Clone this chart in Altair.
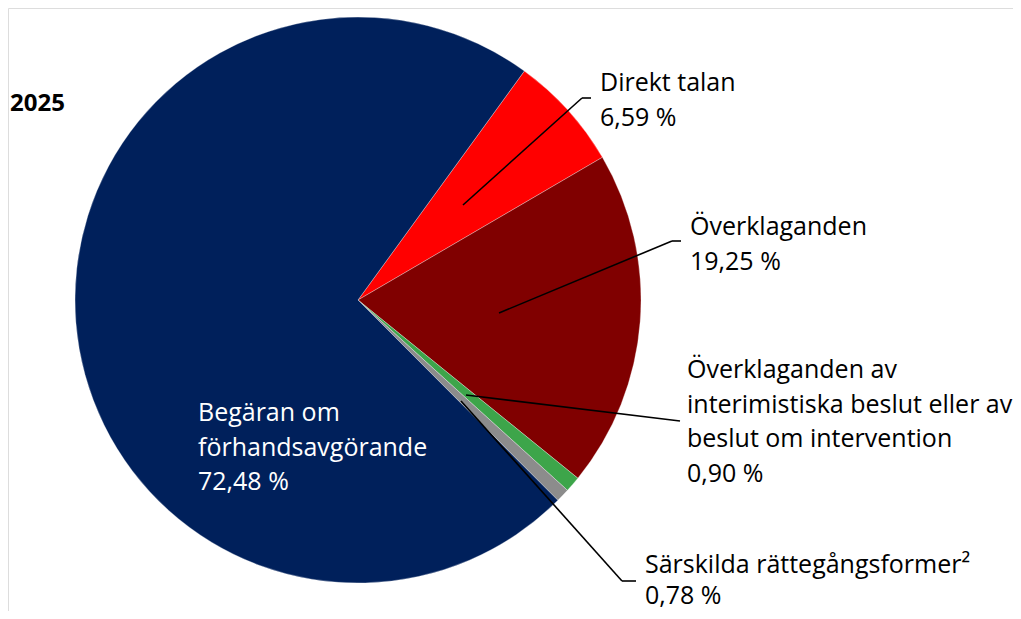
import altair as alt
import pandas as pd
import math

# ---- data ----
categories = [
    "Direkt talan",
    "Överklaganden",
    "Överklaganden av interimistiska beslut eller av beslut om intervention",
    "Särskilda rättegångsformer²",
    "Begäran om förhandsavgörande",
]
shares = [6.59, 19.25, 0.90, 0.78, 72.48]
colors = ["#FF0000", "#800000", "#3DA54A", "#8C8C8C", "#00205B"]

label_lines = [
    ["Direkt talan", "6,59 %"],
    ["Överklaganden", "19,25 %"],
    ["Överklaganden av", "interimistiska beslut eller av", "beslut om intervention", "0,90 %"],
    ["Särskilda rättegångsformer²", "0,78 %"],
    ["Begäran om", "förhandsavgörande", "72,48 %"],
]
year_label = "2025"

# ---- layout (pixels) ----
W, H = 1005, 603
CX, CY, R = 350, 292, 283
START = math.radians(36)
FONT = "Open Sans"
FS = 25
label_pos = [(592, 75), (682, 219), (679, 362), (637, 557), (190, 405)]
label_lh = [34.5, 34.5, 34.5, 31, 34.5]
label_col = ["black", "black", "black", "black", "white"]
leaders = [
    [(455, 197), (574, 90), (583, 90)],
    [(491, 305), (664, 233), (673, 233)],
    [(458, 387), (672, 413)],
    [(453, 393), (614, 573), (628, 573)],
]

pie_df = pd.DataFrame({"cat": categories, "share": shares, "idx": list(range(len(categories)))})

pie = alt.Chart(pie_df).mark_arc(outerRadius=R, stroke="white", strokeWidth=0.3).encode(
    theta=alt.Theta("share:Q", stack=True, scale=alt.Scale(range=[START, START + 2 * math.pi])),
    order=alt.Order("idx:Q"),
    color=alt.Color("cat:N", scale=alt.Scale(domain=categories, range=colors), legend=None),
    x=alt.value(CX),
    y=alt.value(CY),
)

seg_rows = []
for pts in leaders:
    for (x1, y1), (x2, y2) in zip(pts[:-1], pts[1:]):
        seg_rows.append({"x": x1, "y": y1, "x2": x2, "y2": y2})
seg_df = pd.DataFrame(seg_rows)
rules = alt.Chart(seg_df).mark_rule(color="black", strokeWidth=1.6).encode(
    x=alt.X("x:Q", scale=None, axis=None),
    y=alt.Y("y:Q", scale=None, axis=None),
    x2="x2:Q",
    y2="y2:Q",
)

txt_rows = []
for lines, (lx, ly), lh, col in zip(label_lines, label_pos, label_lh, label_col):
    for i, line in enumerate(lines):
        txt_rows.append({"t": line, "x": lx, "y": ly + i * lh, "c": col})
txt_df = pd.DataFrame(txt_rows)
texts = alt.Chart(txt_df).mark_text(
    font=FONT, fontSize=FS, align="left", baseline="middle"
).encode(
    x=alt.X("x:Q", scale=None, axis=None),
    y=alt.Y("y:Q", scale=None, axis=None),
    text="t:N",
    color=alt.Color("c:N", scale=None),
)

year_df = pd.DataFrame({"t": [year_label], "x": [2], "y": [96]})
year = alt.Chart(year_df).mark_text(
    font=FONT, fontSize=24, fontWeight="bold", align="left", baseline="middle", color="black"
).encode(
    x=alt.X("x:Q", scale=None, axis=None),
    y=alt.Y("y:Q", scale=None, axis=None),
    text="t:N",
)

chart = alt.layer(pie, rules, texts, year).properties(
    width=W, height=H, padding=0, autosize=alt.AutoSizeParams(type="none")
).configure_view(strokeWidth=0, stroke="transparent").configure(background="white")

chart.save("out.html", embed_options={"renderer": "svg", "actions": False})
